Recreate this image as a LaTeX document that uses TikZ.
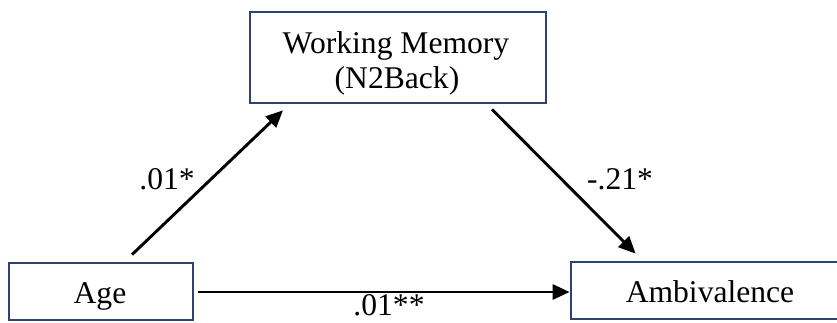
\documentclass[tikz,border=0pt]{standalone}
\usepackage{fontspec}
\setmainfont{Liberation Serif}
\usetikzlibrary{arrows.meta}
\definecolor{boxblue}{RGB}{46,68,112}
\tikzset{
  varbox/.style={draw=boxblue, line width=2.8pt, fill=white, inner sep=0pt},
  vartext/.style={inner sep=0pt, anchor=base, font=\fontsize{31.6}{36}\selectfont},
  coef/.style={inner sep=0pt, anchor=base, font=\fontsize{31.6}{36}\selectfont},
  path arrow/.style={line width=2.9pt, -{Triangle[length=17pt,width=15pt]}}
}
\begin{document}
\begin{tikzpicture}[x=1pt,y=-1pt]
  \useasboundingbox (0,0) rectangle (837,322);

  % variable boxes
  \node[varbox, minimum width=296pt, minimum height=91pt] (wm) at (398,57.5) {};
  \node[varbox, minimum width=184pt, minimum height=57pt] (age) at (101,291.5) {};
  \node[varbox, minimum width=280pt, minimum height=57pt] (amb) at (711,290.5) {};

  % box captions
  \node[vartext] (wmtop) at (396,53) {Working Memory};
  \node[vartext] (wmbot) at (397,88) {(N2Back)};
  \node[vartext] (agetxt) at (100,303) {Age};
  \node[vartext] (ambtxt) at (710,302) {Ambivalence};

  % paths
  \draw[path arrow] ([xshift=31pt,yshift=7pt]age.north) -- ([xshift=-115pt,yshift=-6pt]wm.south);
  \draw[path arrow] ([xshift=94pt,yshift=-5pt]wm.south) -- ([xshift=66pt,yshift=7pt]amb.north west);
  \draw[path arrow] ([xshift=4pt,yshift=-0.5pt]age.east) -- ([yshift=-0.5pt]age.east -| amb.west);

  % path coefficients
  \node[coef] (a) at (167,189) {.01*};
  \node[coef] (b) at (620,189) {-.21*};
  \node[coef] (c) at (389,315.5) {.01**};
\end{tikzpicture}
\end{document}
